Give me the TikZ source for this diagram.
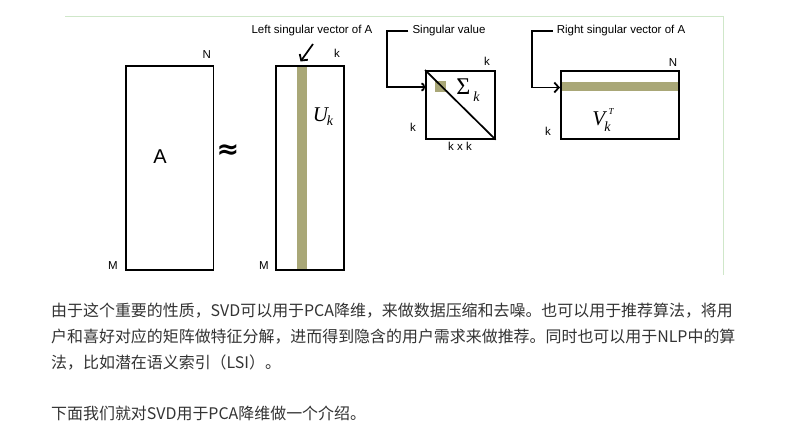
\documentclass[tikz,border=0pt]{standalone}
\usepackage{fontspec}
\setmainfont{Liberation Sans}
\newfontfamily\cjk{Noto Sans CJK SC}
\newfontfamily\tms{Liberation Serif}
\newfontfamily\djv{DejaVu Sans}
\usetikzlibrary{arrows.meta}
\definecolor{framegreen}{HTML}{CFE7C9}
\definecolor{olivebar}{HTML}{A9A777}
\definecolor{bodytext}{HTML}{333333}
\begin{document}
\begin{tikzpicture}[x=1pt,y=-1pt,
  matbox/.style={draw=black,line width=1.7pt,inner sep=0pt,anchor=north west},
  lbl/.style={font=\fontsize{11.5}{13}\selectfont,inner sep=0pt},
  conn/.style={draw=black,line width=1.7pt},
  barb/.style={-{Straight Barb[length=4.5pt,width=10pt,line width=1.8pt]}},
  arcb/.style={-{Arc Barb[length=3.5pt,width=9pt,line width=1.8pt]}},
  para/.style={font=\cjk\fontsize{15.95}{18}\selectfont,text=bodytext,inner sep=0pt,anchor=base west},
  mathlbl/.style={font=\tms\fontsize{21}{23}\selectfont,inner sep=0pt}]
\useasboundingbox (0,0) rectangle (787,436);
\fill[white] (0,0) rectangle (787,436);
% frame
\draw[framegreen,line width=1.3pt] (65,16.7) -- (723.3,16.7) -- (723.3,275);
% olive bands
\fill[olivebar] (297.3,65) rectangle (306.7,269);
\fill[olivebar] (560,81.7) rectangle (678,91.3);
\fill[olivebar] (435,81) rectangle (445.5,91.5);
% matrices
\node[matbox,minimum width=87.7pt,minimum height=204pt] (A) at (125,65) {};
\node[matbox,minimum width=68pt,minimum height=204pt] (U) at (275,65) {};
\node[matbox,minimum width=69pt,minimum height=68pt] (S) at (425,70) {};
\node[matbox,minimum width=118pt,minimum height=68pt] (V) at (560,70) {};
\draw[line width=1.7pt] (S.north west) -- (S.south east);
% dimension labels
\node[lbl] (aN) at (206.7,55) {N};
\node[lbl] (aM) at (113,266) {M};
\node[lbl] (uk) at (337,53) {k};
\node[lbl] (uM) at (264,266) {M};
\node[lbl] (sk1) at (487,61.7) {k};
\node[lbl] (sk2) at (413,127) {k};
\node[lbl] (skk) at (460,146.7) {k x k};
\node[lbl] (vN) at (673,62.7) {N};
\node[lbl] (vk) at (548,131.7) {k};
% big labels
\node[font=\fontsize{20}{22}\selectfont,inner sep=0pt] (Alab) at (160,157) {A};
\node[font=\djv\bfseries\fontsize{27}{29}\selectfont,inner sep=0pt] (approx) at (228,152) {≈};
\node[mathlbl] (Ulab) at (323,117) {\itshape U\kern-1pt\raisebox{-4pt}{\fontsize{14}{15}\selectfont k}};
\node[mathlbl] (Slab) at (468,90) {\fontsize{24}{26}\selectfont Σ\kern3pt\raisebox{-7pt}{\itshape\fontsize{14}{15}\selectfont k}};
\node[mathlbl] (Vlab) at (603,120) {\itshape V\kern-1pt\raisebox{-6pt}{\fontsize{14}{15}\selectfont k}\kern-2pt\raisebox{11pt}{\fontsize{9}{10}\selectfont T}};
% captions
\node[lbl] (lv) at (312,31) {Left singular vector of A};
\node[lbl] (sv) at (449,30.7) {Singular value};
\node[lbl] (rv) at (621,30.7) {Right singular vector of A};
% connectors
\coordinate (lvstart) at (313,44);
\coordinate (lvend) at (300.5,61.5);
\draw[conn,barb] (lvstart) -- (lvend);
\coordinate (svcorner) at (387.3,87);
\draw[conn,arcb] ([xshift=-4pt]sv.west) -| (svcorner) -- (svcorner -| S.west);
\coordinate (rvcorner) at (531.7,87.5);
\draw[conn,barb] ([xshift=-4pt]rv.west) -| (rvcorner) -- (rvcorner -| V.west);
% paragraph
\node[para] (p1) at (51,316.6) {由于这个重要的性质，SVD可以用于PCA降维，来做数据压缩和去噪。也可以用于推荐算法，将用};
\node[para] (p2) at (51,342.3) {户和喜好对应的矩阵做特征分解，进而得到隐含的用户需求来做推荐。同时也可以用于NLP中的算};
\node[para] (p3) at (51,368) {法，比如潜在语义索引（LSI）。};
\node[para] (p4) at (51,419.3) {下面我们就对SVD用于PCA降维做一个介绍。};
\end{tikzpicture}
\end{document}
